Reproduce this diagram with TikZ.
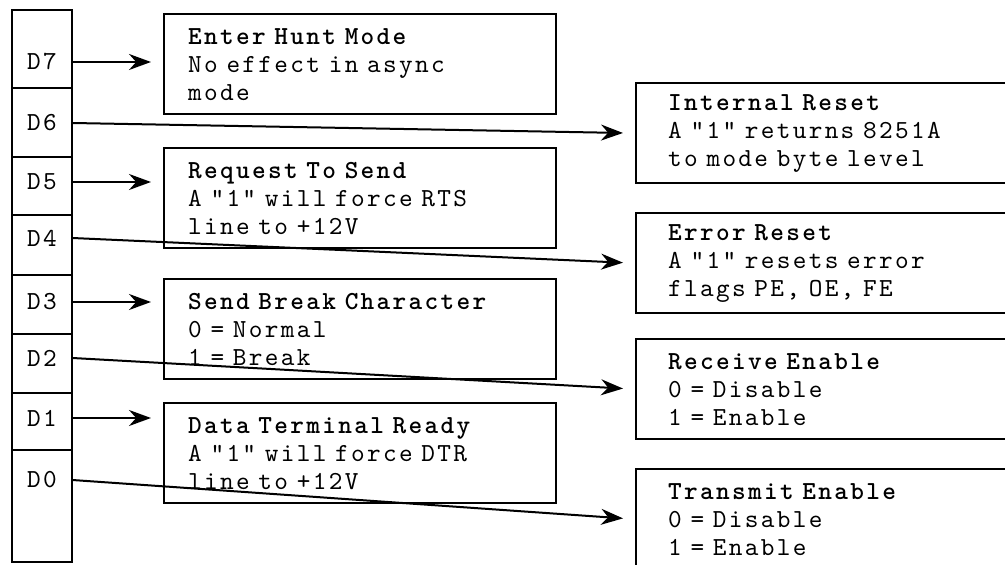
\documentclass[tikz,border=0pt]{standalone}
\usepackage{fontspec}
\usetikzlibrary{arrows.meta,positioning}

% wide-pitch typewriter face, full-width spaces
\newfontfamily\typewr{lmmono10-regular.otf}[BoldFont=lmmonolt10-bold.otf,LetterSpace=9]
\newcommand{\diagfont}{\typewr\fontsize{13pt}{14pt}\selectfont
    \spaceskip=7.4pt\relax\xspaceskip=7.4pt\relax}

\begin{document}
\begin{tikzpicture}[x=0.5pt,y=-0.5pt,
    font=\diagfont,
    regline/.style={line width=1.4pt},
    bitlbl/.style={minimum width=30pt,inner sep=0pt},
    cmdbox/.style={draw,line width=1.2pt,anchor=north west,align=left,
        inner ysep=0pt,minimum height=50pt},
    leftbox/.style={cmdbox,text width=172pt,inner xsep=12pt},
    rightbox/.style={cmdbox,text width=160pt,inner xsep=16pt},
    bitarrow/.style={line width=1pt,-{Stealth[length=11pt,width=8pt]},shorten >=6pt}]

\useasboundingbox (0,0) rectangle (1005,565);
\clip (0,0) rectangle (1005,565);

% === Command register (D7 ... D0) ===
\draw[regline] (12,10) rectangle (72,562);
\foreach \y in {88,157,215,275,334,393,450} {
    \draw[regline] (12,\y) -- (72,\y);
}
\foreach \b/\y in {7/62,6/123,5/182,4/238,3/302,2/358,1/418,0/480} {
    \node[bitlbl] (d\b) at (42,\y) {D\b};
}

% === Left column of boxes ===
\node[leftbox] (hunt) at (163,13)
    {\textbf{Enter Hunt Mode}\\No effect in async\\mode};
\node[leftbox] (rts) at (163,147)
    {\textbf{Request To Send}\\A "1" will force RTS\\line to +12V};
\node[leftbox] (sbrk) at (163,278)
    {\textbf{Send Break Character}\\0 = Normal\\1 = Break};
\node[leftbox] (dtr) at (163,402)
    {\textbf{Data Terminal Ready}\\A "1" will force DTR\\line to +12V};

% === Right column of boxes ===
\node[rightbox] (ireset) at (635,82)
    {\textbf{Internal Reset}\\A "1" returns 8251A\\to mode byte level};
\node[rightbox] (ereset) at (635,212)
    {\textbf{Error Reset}\\A "1" resets error\\flags PE, OE, FE};
\node[rightbox] (rxen) at (635,338)
    {\textbf{Receive Enable}\\0 = Disable\\1 = Enable};
\node[rightbox] (txen) at (635,468)
    {\textbf{Transmit Enable}\\0 = Disable\\1 = Enable};

% === Arrows ===
\draw[bitarrow] (d7.east) -- (d7.east -| hunt.west);
\draw[bitarrow] (d5.east) -- (d5.east -| rts.west);
\draw[bitarrow] (d3.east) -- (d3.east -| sbrk.west);
\draw[bitarrow] (d1.east) -- (d1.east -| dtr.west);

\draw[bitarrow] (d6.east) -- (ireset.west);
\draw[bitarrow] (d4.east) -- (ereset.west);
\draw[bitarrow] (d2.east) -- (rxen.west);
\draw[bitarrow] (d0.east) -- (txen.west);

\end{tikzpicture}
\end{document}
